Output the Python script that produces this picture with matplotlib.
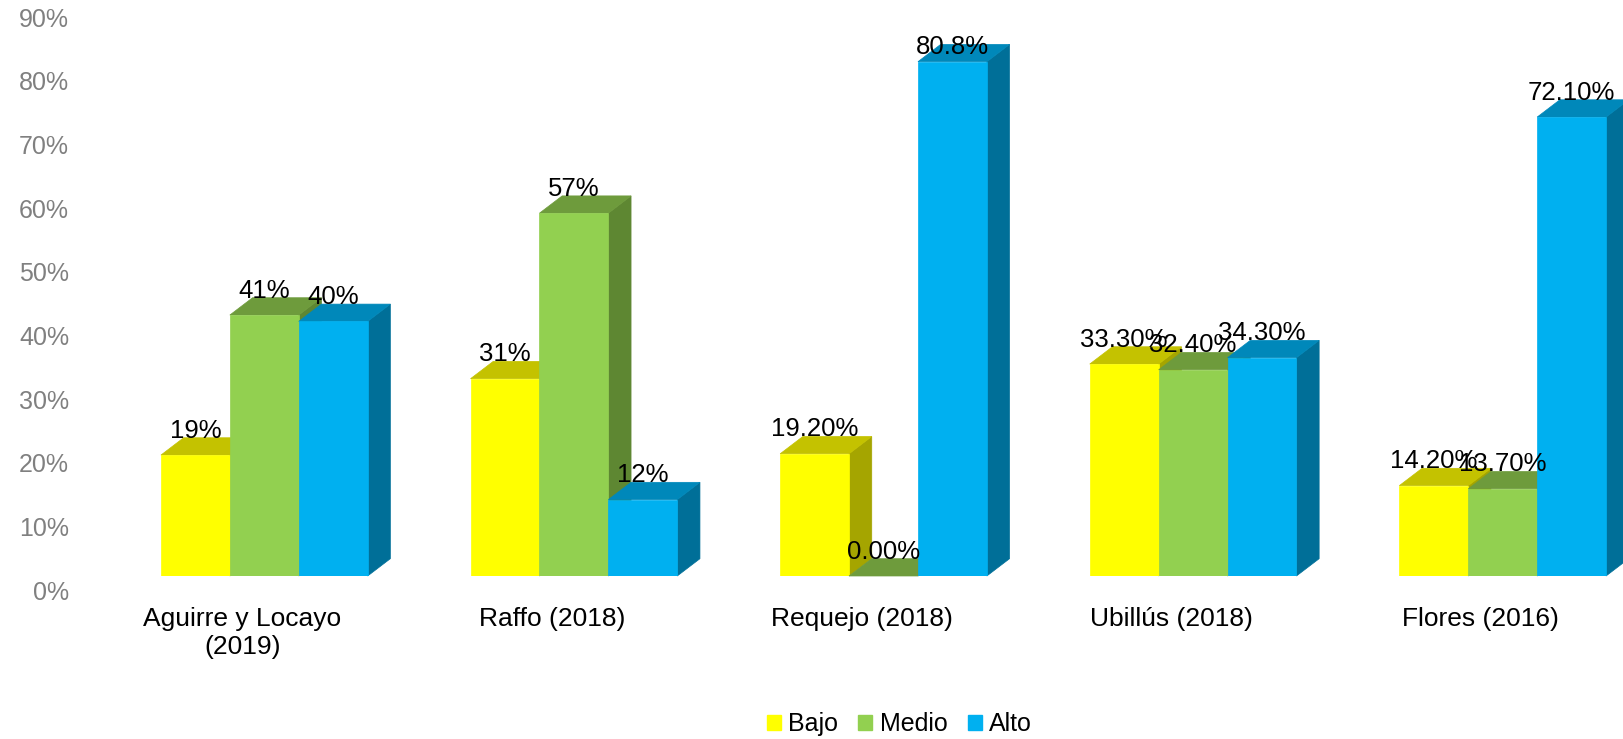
import matplotlib
matplotlib.use("Agg")
import matplotlib.pyplot as plt
from matplotlib.patches import Polygon, Patch
from matplotlib.transforms import ScaledTranslation
import numpy as np

# ---- data ----
categories = ["Aguirre y Locayo\n(2019)", "Raffo (2018)", "Requejo (2018)",
              "Ubillús (2018)", "Flores (2016)"]
series_names = ["Bajo", "Medio", "Alto"]
bajo = [19, 31, 19.2, 33.3, 14.2]
medio = [41, 57, 0.0, 32.4, 13.7]
alto = [40, 12, 80.8, 34.3, 72.1]
bajo_labels = ["19%", "31%", "19.20%", "33.30%", "14.20%"]
medio_labels = ["41%", "57%", "0.00%", "32.40%", "13.70%"]
alto_labels = ["40%", "12%", "80.8%", "34.30%", "72.10%"]
yticks = list(range(0, 91, 10))

values = [bajo, medio, alto]
labels = [bajo_labels, medio_labels, alto_labels]

# ---- style ----
front_cols = ["#FFFF00", "#92D050", "#00B0F0"]
top_cols = ["#C4C200", "#6E9B3C", "#0088BA"]
side_cols = ["#A5A500", "#5E8732", "#006F98"]

plt.rcParams["font.family"] = ["Liberation Sans", "DejaVu Sans"]

W, H = 1623, 739
fig = plt.figure(figsize=(W / 100, H / 100), dpi=100)
fig.patch.set_facecolor("white")

L = 80
zero_px = 576.0
px_per_pct = 6.365
x0_px = 264.3
spacing = 309.6
ax = fig.add_axes([L / W, (H - zero_px) / H, (W - L) / W, 90 * px_per_pct / H])
ax.set_xlim((L - x0_px) / spacing, (W - x0_px) / spacing)
ax.set_ylim(0, 90)

bw = 68.9 / spacing
dx = 22.7 / spacing
dy = 17.3 / px_per_pct
label_cap = (zero_px - 54) / px_per_pct

x = np.arange(len(categories))
for j, vals in enumerate(values):
    pos = x + (j - 1) * bw
    bars = ax.bar(pos, vals, width=bw, color=front_cols[j], edgecolor=front_cols[j],
                  linewidth=0.5, zorder=4 + 3 * j)
    for p, v, lab in zip(pos, vals, labels[j]):
        xl, xr = p - bw / 2, p + bw / 2
        side = Polygon([(xr, 0), (xr + dx, dy), (xr + dx, v + dy), (xr, v)],
                       closed=True, facecolor=side_cols[j], edgecolor=side_cols[j],
                       linewidth=0.5, zorder=2 + 3 * j, clip_on=False)
        top = Polygon([(xl, v), (xr, v), (xr + dx, v + dy), (xl + dx, v + dy)],
                      closed=True, facecolor=top_cols[j], edgecolor=top_cols[j],
                      linewidth=0.5, zorder=3 + 3 * j, clip_on=False)
        ax.add_patch(side)
        ax.add_patch(top)
        ax.text(p, min(v + dy, label_cap), lab, ha="center", va="baseline",
                fontsize=18.5, color="black", zorder=50, clip_on=False)

for s in ax.spines.values():
    s.set_visible(False)

ax.set_yticks(yticks)
ax.set_yticklabels([f"{t}%" for t in yticks])
ax.tick_params(axis="y", length=0, pad=7.9, labelsize=18, labelcolor="#808080")
off_y = ScaledTranslation(0, -14 / 100, fig.dpi_scale_trans)
for lab in ax.get_yticklabels():
    lab.set_transform(lab.get_transform() + off_y)

ax.set_xticks(x)
ax.set_xticklabels(categories)
ax.tick_params(axis="x", length=0, pad=22.3, labelsize=19, labelcolor="black")
off_x = ScaledTranslation(-22 / 100, 0, fig.dpi_scale_trans)
for lab in ax.get_xticklabels():
    lab.set_transform(lab.get_transform() + off_x)

handles = [Patch(facecolor=c, edgecolor=c) for c in front_cols]
fig.legend(handles, series_names, loc="center", bbox_to_anchor=(899.5 / W, (H - 724) / H),
           ncol=3, frameon=False, fontsize=18, handlelength=0.56, handleheight=0.56,
           handletextpad=0.3, columnspacing=0.8, borderaxespad=0, borderpad=0)

fig.savefig("out.png", dpi=100, facecolor="white")
